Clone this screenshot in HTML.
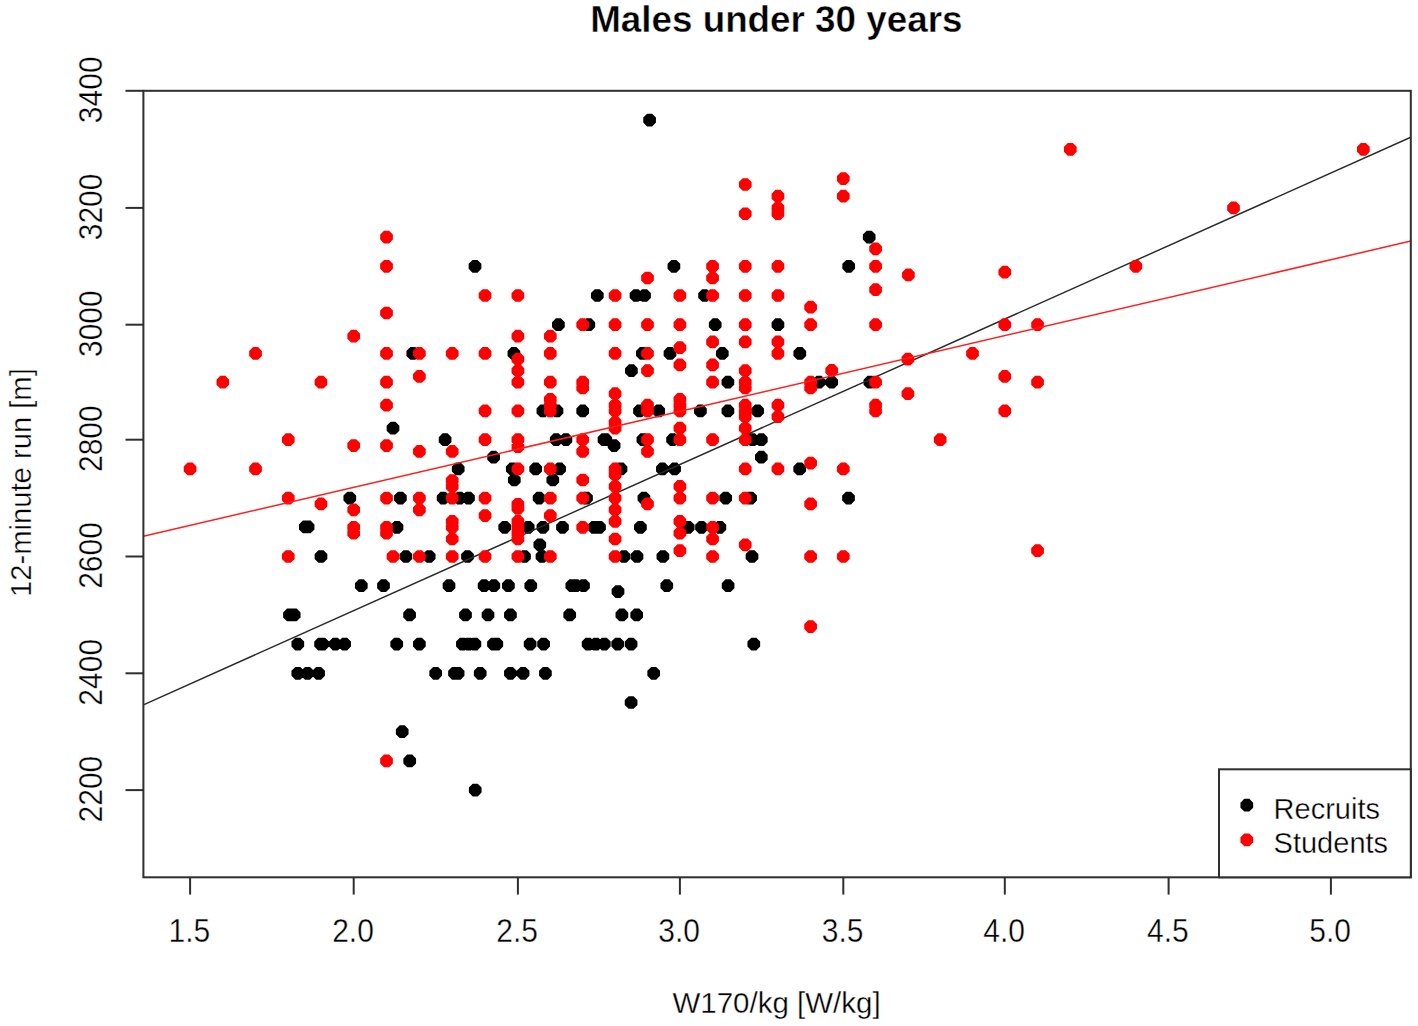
<!DOCTYPE html>
<html><head><meta charset="utf-8"><style>
html,body{margin:0;padding:0;background:#fff;}
body{width:1418px;height:1026px;overflow:hidden;}
svg{display:block;}
text{font-family:"Liberation Sans",sans-serif;fill:#000;stroke:#fff;stroke-width:0.35px;}
</style></head><body>
<svg width="1418" height="1026" viewBox="0 0 1418 1026">
<defs>
<clipPath id="cp"><rect x="143.4" y="90.8" width="1267.3999999999999" height="786.5"/></clipPath>
</defs>
<rect width="1418" height="1026" fill="#fff"/>
<g>

<text x="776.3" y="31.6" text-anchor="middle" font-weight="bold" font-size="36.8" style="stroke-width:0.4px">Males under 30 years</text>
<path fill="#000" d="M410.30 347.10 L415.30 347.10 L419.15 350.95 L419.15 355.95 L415.30 359.80 L410.30 359.80 L406.45 355.95 L406.45 350.95ZM390.50 421.85 L395.50 421.85 L399.35 425.70 L399.35 430.70 L395.50 434.55 L390.50 434.55 L386.65 430.70 L386.65 425.70ZM347.30 491.75 L352.30 491.75 L356.15 495.60 L356.15 500.60 L352.30 504.45 L347.30 504.45 L343.45 500.60 L343.45 495.60ZM397.90 491.75 L402.90 491.75 L406.75 495.60 L406.75 500.60 L402.90 504.45 L397.90 504.45 L394.05 500.60 L394.05 495.60ZM302.80 520.55 L307.80 520.55 L311.65 524.40 L311.65 529.40 L307.80 533.25 L302.80 533.25 L298.95 529.40 L298.95 524.40ZM305.60 520.55 L310.60 520.55 L314.45 524.40 L314.45 529.40 L310.60 533.25 L305.60 533.25 L301.75 529.40 L301.75 524.40ZM394.50 520.95 L399.50 520.95 L403.35 524.80 L403.35 529.80 L399.50 533.65 L394.50 533.65 L390.65 529.80 L390.65 524.80ZM318.48 550.15 L323.48 550.15 L327.33 554.00 L327.33 559.00 L323.48 562.85 L318.48 562.85 L314.63 559.00 L314.63 554.00ZM403.40 550.15 L408.40 550.15 L412.25 554.00 L412.25 559.00 L408.40 562.85 L403.40 562.85 L399.55 559.00 L399.55 554.00ZM358.80 579.35 L363.80 579.35 L367.65 583.20 L367.65 588.20 L363.80 592.05 L358.80 592.05 L354.95 588.20 L354.95 583.20ZM381.00 579.35 L386.00 579.35 L389.85 583.20 L389.85 588.20 L386.00 592.05 L381.00 592.05 L377.15 588.20 L377.15 583.20ZM287.00 608.55 L292.00 608.55 L295.85 612.40 L295.85 617.40 L292.00 621.25 L287.00 621.25 L283.15 617.40 L283.15 612.40ZM291.70 608.55 L296.70 608.55 L300.55 612.40 L300.55 617.40 L296.70 621.25 L291.70 621.25 L287.85 617.40 L287.85 612.40ZM407.10 608.55 L412.10 608.55 L415.95 612.40 L415.95 617.40 L412.10 621.25 L407.10 621.25 L403.25 617.40 L403.25 612.40ZM295.30 637.75 L300.30 637.75 L304.15 641.60 L304.15 646.60 L300.30 650.45 L295.30 650.45 L291.45 646.60 L291.45 641.60ZM318.10 637.75 L323.10 637.75 L326.95 641.60 L326.95 646.60 L323.10 650.45 L318.10 650.45 L314.25 646.60 L314.25 641.60ZM320.20 637.75 L325.20 637.75 L329.05 641.60 L329.05 646.60 L325.20 650.45 L320.20 650.45 L316.35 646.60 L316.35 641.60ZM332.80 637.75 L337.80 637.75 L341.65 641.60 L341.65 646.60 L337.80 650.45 L332.80 650.45 L328.95 646.60 L328.95 641.60ZM342.10 637.75 L347.10 637.75 L350.95 641.60 L350.95 646.60 L347.10 650.45 L342.10 650.45 L338.25 646.60 L338.25 641.60ZM394.20 637.75 L399.20 637.75 L403.05 641.60 L403.05 646.60 L399.20 650.45 L394.20 650.45 L390.35 646.60 L390.35 641.60ZM416.88 637.75 L421.88 637.75 L425.73 641.60 L425.73 646.60 L421.88 650.45 L416.88 650.45 L413.03 646.60 L413.03 641.60ZM295.30 666.95 L300.30 666.95 L304.15 670.80 L304.15 675.80 L300.30 679.65 L295.30 679.65 L291.45 675.80 L291.45 670.80ZM305.00 666.95 L310.00 666.95 L313.85 670.80 L313.85 675.80 L310.00 679.65 L305.00 679.65 L301.15 675.80 L301.15 670.80ZM316.10 666.95 L321.10 666.95 L324.95 670.80 L324.95 675.80 L321.10 679.65 L316.10 679.65 L312.25 675.80 L312.25 670.80ZM399.70 725.35 L404.70 725.35 L408.55 729.20 L408.55 734.20 L404.70 738.05 L399.70 738.05 L395.85 734.20 L395.85 729.20ZM426.70 550.15 L431.70 550.15 L435.55 554.00 L435.55 559.00 L431.70 562.85 L426.70 562.85 L422.85 559.00 L422.85 554.00ZM594.80 289.15 L599.80 289.15 L603.65 293.00 L603.65 298.00 L599.80 301.85 L594.80 301.85 L590.95 298.00 L590.95 293.00ZM555.90 318.35 L560.90 318.35 L564.75 322.20 L564.75 327.20 L560.90 331.05 L555.90 331.05 L552.05 327.20 L552.05 322.20ZM586.30 318.35 L591.30 318.35 L595.15 322.20 L595.15 327.20 L591.30 331.05 L586.30 331.05 L582.45 327.20 L582.45 322.20ZM511.40 347.10 L516.40 347.10 L520.25 350.95 L520.25 355.95 L516.40 359.80 L511.40 359.80 L507.55 355.95 L507.55 350.95ZM540.40 404.60 L545.40 404.60 L549.25 408.45 L549.25 413.45 L545.40 417.30 L540.40 417.30 L536.55 413.45 L536.55 408.45ZM554.50 404.60 L559.50 404.60 L563.35 408.45 L563.35 413.45 L559.50 417.30 L554.50 417.30 L550.65 413.45 L550.65 408.45ZM580.20 404.60 L585.20 404.60 L589.05 408.45 L589.05 413.45 L585.20 417.30 L580.20 417.30 L576.35 413.45 L576.35 408.45ZM633.50 289.15 L638.50 289.15 L642.35 293.00 L642.35 298.00 L638.50 301.85 L633.50 301.85 L629.65 298.00 L629.65 293.00ZM642.00 289.15 L647.00 289.15 L650.85 293.00 L650.85 298.00 L647.00 301.85 L642.00 301.85 L638.15 298.00 L638.15 293.00ZM702.10 289.15 L707.10 289.15 L710.95 293.00 L710.95 298.00 L707.10 301.85 L702.10 301.85 L698.25 298.00 L698.25 293.00ZM712.70 318.35 L717.70 318.35 L721.55 322.20 L721.55 327.20 L717.70 331.05 L712.70 331.05 L708.85 327.20 L708.85 322.20ZM775.44 318.35 L780.44 318.35 L784.29 322.20 L784.29 327.20 L780.44 331.05 L775.44 331.05 L771.59 327.20 L771.59 322.20ZM639.90 347.10 L644.90 347.10 L648.75 350.95 L648.75 355.95 L644.90 359.80 L639.90 359.80 L636.05 355.95 L636.05 350.95ZM667.50 347.10 L672.50 347.10 L676.35 350.95 L676.35 355.95 L672.50 359.80 L667.50 359.80 L663.65 355.95 L663.65 350.95ZM719.80 347.10 L724.80 347.10 L728.65 350.95 L728.65 355.95 L724.80 359.80 L719.80 359.80 L715.95 355.95 L715.95 350.95ZM797.30 347.10 L802.30 347.10 L806.15 350.95 L806.15 355.95 L802.30 359.80 L797.30 359.80 L793.45 355.95 L793.45 350.95ZM628.90 364.35 L633.90 364.35 L637.75 368.20 L637.75 373.20 L633.90 377.05 L628.90 377.05 L625.05 373.20 L625.05 368.20ZM725.40 375.85 L730.40 375.85 L734.25 379.70 L734.25 384.70 L730.40 388.55 L725.40 388.55 L721.55 384.70 L721.55 379.70ZM637.00 404.60 L642.00 404.60 L645.85 408.45 L645.85 413.45 L642.00 417.30 L637.00 417.30 L633.15 413.45 L633.15 408.45ZM656.20 404.60 L661.20 404.60 L665.05 408.45 L665.05 413.45 L661.20 417.30 L656.20 417.30 L652.35 413.45 L652.35 408.45ZM697.90 404.60 L702.90 404.60 L706.75 408.45 L706.75 413.45 L702.90 417.30 L697.90 417.30 L694.05 413.45 L694.05 408.45ZM725.40 404.60 L730.40 404.60 L734.25 408.45 L734.25 413.45 L730.40 417.30 L725.40 417.30 L721.55 413.45 L721.55 408.45ZM755.10 404.60 L760.10 404.60 L763.95 408.45 L763.95 413.45 L760.10 417.30 L755.10 417.30 L751.25 413.45 L751.25 408.45ZM671.40 259.95 L676.40 259.95 L680.25 263.80 L680.25 268.80 L676.40 272.65 L671.40 272.65 L667.55 268.80 L667.55 263.80ZM647.10 113.73 L652.10 113.73 L655.95 117.58 L655.95 122.58 L652.10 126.42 L647.10 126.42 L643.25 122.58 L643.25 117.58ZM472.50 259.95 L477.50 259.95 L481.35 263.80 L481.35 268.80 L477.50 272.65 L472.50 272.65 L468.65 268.80 L468.65 263.80ZM866.70 230.75 L871.70 230.75 L875.55 234.60 L875.55 239.60 L871.70 243.45 L866.70 243.45 L862.85 239.60 L862.85 234.60ZM846.20 259.95 L851.20 259.95 L855.05 263.80 L855.05 268.80 L851.20 272.65 L846.20 272.65 L842.35 268.80 L842.35 263.80ZM816.50 375.85 L821.50 375.85 L825.35 379.70 L825.35 384.70 L821.50 388.55 L816.50 388.55 L812.65 384.70 L812.65 379.70ZM829.20 375.85 L834.20 375.85 L838.05 379.70 L838.05 384.70 L834.20 388.55 L829.20 388.55 L825.35 384.70 L825.35 379.70ZM867.40 375.85 L872.40 375.85 L876.25 379.70 L876.25 384.70 L872.40 388.55 L867.40 388.55 L863.55 384.70 L863.55 379.70ZM442.60 433.35 L447.60 433.35 L451.45 437.20 L451.45 442.20 L447.60 446.05 L442.60 446.05 L438.75 442.20 L438.75 437.20ZM491.10 450.87 L496.10 450.87 L499.95 454.72 L499.95 459.72 L496.10 463.57 L491.10 463.57 L487.25 459.72 L487.25 454.72ZM455.70 462.55 L460.70 462.55 L464.55 466.40 L464.55 471.40 L460.70 475.25 L455.70 475.25 L451.85 471.40 L451.85 466.40ZM440.60 491.75 L445.60 491.75 L449.45 495.60 L449.45 500.60 L445.60 504.45 L440.60 504.45 L436.75 500.60 L436.75 495.60ZM457.20 491.75 L462.20 491.75 L466.05 495.60 L466.05 500.60 L462.20 504.45 L457.20 504.45 L453.35 500.60 L453.35 495.60ZM466.00 491.75 L471.00 491.75 L474.85 495.60 L474.85 500.60 L471.00 504.45 L466.00 504.45 L462.15 500.60 L462.15 495.60ZM553.70 433.35 L558.70 433.35 L562.55 437.20 L562.55 442.20 L558.70 446.05 L553.70 446.05 L549.85 442.20 L549.85 437.20ZM563.40 433.35 L568.40 433.35 L572.25 437.20 L572.25 442.20 L568.40 446.05 L563.40 446.05 L559.55 442.20 L559.55 437.20ZM601.50 433.35 L606.50 433.35 L610.35 437.20 L610.35 442.20 L606.50 446.05 L601.50 446.05 L597.65 442.20 L597.65 437.20ZM509.80 462.55 L514.80 462.55 L518.65 466.40 L518.65 471.40 L514.80 475.25 L509.80 475.25 L505.95 471.40 L505.95 466.40ZM533.20 462.55 L538.20 462.55 L542.05 466.40 L542.05 471.40 L538.20 475.25 L533.20 475.25 L529.35 471.40 L529.35 466.40ZM557.10 462.55 L562.10 462.55 L565.95 466.40 L565.95 471.40 L562.10 475.25 L557.10 475.25 L553.25 471.40 L553.25 466.40ZM511.80 473.65 L516.80 473.65 L520.65 477.50 L520.65 482.50 L516.80 486.35 L511.80 486.35 L507.95 482.50 L507.95 477.50ZM550.30 473.65 L555.30 473.65 L559.15 477.50 L559.15 482.50 L555.30 486.35 L550.30 486.35 L546.45 482.50 L546.45 477.50ZM536.60 491.75 L541.60 491.75 L545.45 495.60 L545.45 500.60 L541.60 504.45 L536.60 504.45 L532.75 500.60 L532.75 495.60ZM584.00 491.75 L589.00 491.75 L592.85 495.60 L592.85 500.60 L589.00 504.45 L584.00 504.45 L580.15 500.60 L580.15 495.60ZM502.20 520.95 L507.20 520.95 L511.05 524.80 L511.05 529.80 L507.20 533.65 L502.20 533.65 L498.35 529.80 L498.35 524.80ZM525.70 520.95 L530.70 520.95 L534.55 524.80 L534.55 529.80 L530.70 533.65 L525.70 533.65 L521.85 529.80 L521.85 524.80ZM540.40 520.95 L545.40 520.95 L549.25 524.80 L549.25 529.80 L545.40 533.65 L540.40 533.65 L536.55 529.80 L536.55 524.80ZM537.30 538.47 L542.30 538.47 L546.15 542.32 L546.15 547.32 L542.30 551.17 L537.30 551.17 L533.45 547.32 L533.45 542.32ZM603.30 433.35 L608.30 433.35 L612.15 437.20 L612.15 442.20 L608.30 446.05 L603.30 446.05 L599.45 442.20 L599.45 437.20ZM611.60 439.19 L616.60 439.19 L620.45 443.04 L620.45 448.04 L616.60 451.89 L611.60 451.89 L607.75 448.04 L607.75 443.04ZM640.40 433.35 L645.40 433.35 L649.25 437.20 L649.25 442.20 L645.40 446.05 L640.40 446.05 L636.55 442.20 L636.55 437.20ZM670.10 433.35 L675.10 433.35 L678.95 437.20 L678.95 442.20 L675.10 446.05 L670.10 446.05 L666.25 442.20 L666.25 437.20ZM659.90 462.55 L664.90 462.55 L668.75 466.40 L668.75 471.40 L664.90 475.25 L659.90 475.25 L656.05 471.40 L656.05 466.40ZM672.10 462.55 L677.10 462.55 L680.95 466.40 L680.95 471.40 L677.10 475.25 L672.10 475.25 L668.25 471.40 L668.25 466.40ZM618.50 462.55 L623.50 462.55 L627.35 466.40 L627.35 471.40 L623.50 475.25 L618.50 475.25 L614.65 471.40 L614.65 466.40ZM641.40 491.75 L646.40 491.75 L650.25 495.60 L650.25 500.60 L646.40 504.45 L641.40 504.45 L637.55 500.60 L637.55 495.60ZM750.00 433.35 L755.00 433.35 L758.85 437.20 L758.85 442.20 L755.00 446.05 L750.00 446.05 L746.15 442.20 L746.15 437.20ZM758.80 433.35 L763.80 433.35 L767.65 437.20 L767.65 442.20 L763.80 446.05 L758.80 446.05 L754.95 442.20 L754.95 437.20ZM758.80 450.87 L763.80 450.87 L767.65 454.72 L767.65 459.72 L763.80 463.57 L758.80 463.57 L754.95 459.72 L754.95 454.72ZM723.20 491.75 L728.20 491.75 L732.05 495.60 L732.05 500.60 L728.20 504.45 L723.20 504.45 L719.35 500.60 L719.35 495.60ZM748.10 491.75 L753.10 491.75 L756.95 495.60 L756.95 500.60 L753.10 504.45 L748.10 504.45 L744.25 500.60 L744.25 495.60ZM797.20 462.55 L802.20 462.55 L806.05 466.40 L806.05 471.40 L802.20 475.25 L797.20 475.25 L793.35 471.40 L793.35 466.40ZM846.00 491.75 L851.00 491.75 L854.85 495.60 L854.85 500.60 L851.00 504.45 L846.00 504.45 L842.15 500.60 L842.15 495.60ZM465.00 550.15 L470.00 550.15 L473.85 554.00 L473.85 559.00 L470.00 562.85 L465.00 562.85 L461.15 559.00 L461.15 554.00ZM446.50 579.35 L451.50 579.35 L455.35 583.20 L455.35 588.20 L451.50 592.05 L446.50 592.05 L442.65 588.20 L442.65 583.20ZM481.60 579.35 L486.60 579.35 L490.45 583.20 L490.45 588.20 L486.60 592.05 L481.60 592.05 L477.75 588.20 L477.75 583.20ZM491.30 579.35 L496.30 579.35 L500.15 583.20 L500.15 588.20 L496.30 592.05 L491.30 592.05 L487.45 588.20 L487.45 583.20ZM505.90 579.35 L510.90 579.35 L514.75 583.20 L514.75 588.20 L510.90 592.05 L505.90 592.05 L502.05 588.20 L502.05 583.20ZM560.00 520.95 L565.00 520.95 L568.85 524.80 L568.85 529.80 L565.00 533.65 L560.00 533.65 L556.15 529.80 L556.15 524.80ZM591.50 520.95 L596.50 520.95 L600.35 524.80 L600.35 529.80 L596.50 533.65 L591.50 533.65 L587.65 529.80 L587.65 524.80ZM597.00 520.95 L602.00 520.95 L605.85 524.80 L605.85 529.80 L602.00 533.65 L597.00 533.65 L593.15 529.80 L593.15 524.80ZM522.00 550.15 L527.00 550.15 L530.85 554.00 L530.85 559.00 L527.00 562.85 L522.00 562.85 L518.15 559.00 L518.15 554.00ZM539.50 550.15 L544.50 550.15 L548.35 554.00 L548.35 559.00 L544.50 562.85 L539.50 562.85 L535.65 559.00 L535.65 554.00ZM528.30 579.35 L533.30 579.35 L537.15 583.20 L537.15 588.20 L533.30 592.05 L528.30 592.05 L524.45 588.20 L524.45 583.20ZM569.30 579.35 L574.30 579.35 L578.15 583.20 L578.15 588.20 L574.30 592.05 L569.30 592.05 L565.45 588.20 L565.45 583.20ZM573.30 579.35 L578.30 579.35 L582.15 583.20 L582.15 588.20 L578.30 592.05 L573.30 592.05 L569.45 588.20 L569.45 583.20ZM581.00 579.35 L586.00 579.35 L589.85 583.20 L589.85 588.20 L586.00 592.05 L581.00 592.05 L577.15 588.20 L577.15 583.20ZM621.40 550.15 L626.40 550.15 L630.25 554.00 L630.25 559.00 L626.40 562.85 L621.40 562.85 L617.55 559.00 L617.55 554.00ZM634.50 550.15 L639.50 550.15 L643.35 554.00 L643.35 559.00 L639.50 562.85 L634.50 562.85 L630.65 559.00 L630.65 554.00ZM660.40 550.15 L665.40 550.15 L669.25 554.00 L669.25 559.00 L665.40 562.85 L660.40 562.85 L656.55 559.00 L656.55 554.00ZM637.90 520.95 L642.90 520.95 L646.75 524.80 L646.75 529.80 L642.90 533.65 L637.90 533.65 L634.05 529.80 L634.05 524.80ZM685.70 520.95 L690.70 520.95 L694.55 524.80 L694.55 529.80 L690.70 533.65 L685.70 533.65 L681.85 529.80 L681.85 524.80ZM699.00 520.95 L704.00 520.95 L707.85 524.80 L707.85 529.80 L704.00 533.65 L699.00 533.65 L695.15 529.80 L695.15 524.80ZM664.30 579.35 L669.30 579.35 L673.15 583.20 L673.15 588.20 L669.30 592.05 L664.30 592.05 L660.45 588.20 L660.45 583.20ZM615.50 585.19 L620.50 585.19 L624.35 589.04 L624.35 594.04 L620.50 597.89 L615.50 597.89 L611.65 594.04 L611.65 589.04ZM717.40 520.95 L722.40 520.95 L726.25 524.80 L726.25 529.80 L722.40 533.65 L717.40 533.65 L713.55 529.80 L713.55 524.80ZM749.50 550.15 L754.50 550.15 L758.35 554.00 L758.35 559.00 L754.50 562.85 L749.50 562.85 L745.65 559.00 L745.65 554.00ZM725.60 579.35 L730.60 579.35 L734.45 583.20 L734.45 588.20 L730.60 592.05 L725.60 592.05 L721.75 588.20 L721.75 583.20ZM463.00 608.55 L468.00 608.55 L471.85 612.40 L471.85 617.40 L468.00 621.25 L463.00 621.25 L459.15 617.40 L459.15 612.40ZM485.50 608.55 L490.50 608.55 L494.35 612.40 L494.35 617.40 L490.50 621.25 L485.50 621.25 L481.65 617.40 L481.65 612.40ZM507.90 608.55 L512.90 608.55 L516.75 612.40 L516.75 617.40 L512.90 621.25 L507.90 621.25 L504.05 617.40 L504.05 612.40ZM567.20 608.55 L572.20 608.55 L576.05 612.40 L576.05 617.40 L572.20 621.25 L567.20 621.25 L563.35 617.40 L563.35 612.40ZM459.90 637.75 L464.90 637.75 L468.75 641.60 L468.75 646.60 L464.90 650.45 L459.90 650.45 L456.05 646.60 L456.05 641.60ZM466.20 637.75 L471.20 637.75 L475.05 641.60 L475.05 646.60 L471.20 650.45 L466.20 650.45 L462.35 646.60 L462.35 641.60ZM472.40 637.75 L477.40 637.75 L481.25 641.60 L481.25 646.60 L477.40 650.45 L472.40 650.45 L468.55 646.60 L468.55 641.60ZM491.00 637.75 L496.00 637.75 L499.85 641.60 L499.85 646.60 L496.00 650.45 L491.00 650.45 L487.15 646.60 L487.15 641.60ZM494.30 637.75 L499.30 637.75 L503.15 641.60 L503.15 646.60 L499.30 650.45 L494.30 650.45 L490.45 646.60 L490.45 641.60ZM527.60 637.75 L532.60 637.75 L536.45 641.60 L536.45 646.60 L532.60 650.45 L527.60 650.45 L523.75 646.60 L523.75 641.60ZM541.10 637.75 L546.10 637.75 L549.95 641.60 L549.95 646.60 L546.10 650.45 L541.10 650.45 L537.25 646.60 L537.25 641.60ZM585.60 637.75 L590.60 637.75 L594.45 641.60 L594.45 646.60 L590.60 650.45 L585.60 650.45 L581.75 646.60 L581.75 641.60ZM593.40 637.75 L598.40 637.75 L602.25 641.60 L602.25 646.60 L598.40 650.45 L593.40 650.45 L589.55 646.60 L589.55 641.60ZM601.80 637.75 L606.80 637.75 L610.65 641.60 L610.65 646.60 L606.80 650.45 L601.80 650.45 L597.95 646.60 L597.95 641.60ZM433.20 666.95 L438.20 666.95 L442.05 670.80 L442.05 675.80 L438.20 679.65 L433.20 679.65 L429.35 675.80 L429.35 670.80ZM452.00 666.95 L457.00 666.95 L460.85 670.80 L460.85 675.80 L457.00 679.65 L452.00 679.65 L448.15 675.80 L448.15 670.80ZM455.60 666.95 L460.60 666.95 L464.45 670.80 L464.45 675.80 L460.60 679.65 L455.60 679.65 L451.75 675.80 L451.75 670.80ZM477.70 666.95 L482.70 666.95 L486.55 670.80 L486.55 675.80 L482.70 679.65 L477.70 679.65 L473.85 675.80 L473.85 670.80ZM507.90 666.95 L512.90 666.95 L516.75 670.80 L516.75 675.80 L512.90 679.65 L507.90 679.65 L504.05 675.80 L504.05 670.80ZM520.60 666.95 L525.60 666.95 L529.45 670.80 L529.45 675.80 L525.60 679.65 L520.60 679.65 L516.75 675.80 L516.75 670.80ZM542.90 666.95 L547.90 666.95 L551.75 670.80 L551.75 675.80 L547.90 679.65 L542.90 679.65 L539.05 675.80 L539.05 670.80ZM619.40 608.55 L624.40 608.55 L628.25 612.40 L628.25 617.40 L624.40 621.25 L619.40 621.25 L615.55 617.40 L615.55 612.40ZM634.20 608.55 L639.20 608.55 L643.05 612.40 L643.05 617.40 L639.20 621.25 L634.20 621.25 L630.35 617.40 L630.35 612.40ZM615.20 637.75 L620.20 637.75 L624.05 641.60 L624.05 646.60 L620.20 650.45 L615.20 650.45 L611.35 646.60 L611.35 641.60ZM628.60 637.75 L633.60 637.75 L637.45 641.60 L637.45 646.60 L633.60 650.45 L628.60 650.45 L624.75 646.60 L624.75 641.60ZM751.30 637.75 L756.30 637.75 L760.15 641.60 L760.15 646.60 L756.30 650.45 L751.30 650.45 L747.45 646.60 L747.45 641.60ZM651.20 666.95 L656.20 666.95 L660.05 670.80 L660.05 675.80 L656.20 679.65 L651.20 679.65 L647.35 675.80 L647.35 670.80ZM628.60 696.15 L633.60 696.15 L637.45 700.00 L637.45 705.00 L633.60 708.85 L628.60 708.85 L624.75 705.00 L624.75 700.00ZM407.20 754.55 L412.20 754.55 L416.05 758.40 L416.05 763.40 L412.20 767.25 L407.20 767.25 L403.35 763.40 L403.35 758.40ZM472.71 783.75 L477.71 783.75 L481.56 787.60 L481.56 792.60 L477.71 796.45 L472.71 796.45 L468.86 792.60 L468.86 787.60Z"/>
<g clip-path="url(#cp)"><line x1="143.4" y1="704.8" x2="1410.8" y2="137.2" stroke="#2a2a2a" stroke-width="1.45"/></g>
<path fill="#f00" d="M384.04 230.75 L389.04 230.75 L392.89 234.60 L392.89 239.60 L389.04 243.45 L384.04 243.45 L380.19 239.60 L380.19 234.60ZM384.04 259.95 L389.04 259.95 L392.89 263.80 L392.89 268.80 L389.04 272.65 L384.04 272.65 L380.19 268.80 L380.19 263.80ZM384.04 306.67 L389.04 306.67 L392.89 310.52 L392.89 315.52 L389.04 319.37 L384.04 319.37 L380.19 315.52 L380.19 310.52ZM351.20 329.85 L356.20 329.85 L360.05 333.70 L360.05 338.70 L356.20 342.55 L351.20 342.55 L347.35 338.70 L347.35 333.70ZM253.04 347.10 L258.04 347.10 L261.89 350.95 L261.89 355.95 L258.04 359.80 L253.04 359.80 L249.19 355.95 L249.19 350.95ZM384.04 347.10 L389.04 347.10 L392.89 350.95 L392.89 355.95 L389.04 359.80 L384.04 359.80 L380.19 355.95 L380.19 350.95ZM416.88 347.10 L421.88 347.10 L425.73 350.95 L425.73 355.95 L421.88 359.80 L416.88 359.80 L413.03 355.95 L413.03 350.95ZM220.32 375.85 L225.32 375.85 L229.17 379.70 L229.17 384.70 L225.32 388.55 L220.32 388.55 L216.47 384.70 L216.47 379.70ZM318.48 375.85 L323.48 375.85 L327.33 379.70 L327.33 384.70 L323.48 388.55 L318.48 388.55 L314.63 384.70 L314.63 379.70ZM384.04 375.85 L389.04 375.85 L392.89 379.70 L392.89 384.70 L389.04 388.55 L384.04 388.55 L380.19 384.70 L380.19 379.70ZM416.88 370.10 L421.88 370.10 L425.73 373.95 L425.73 378.95 L421.88 382.80 L416.88 382.80 L413.03 378.95 L413.03 373.95ZM384.04 398.85 L389.04 398.85 L392.89 402.70 L392.89 407.70 L389.04 411.55 L384.04 411.55 L380.19 407.70 L380.19 402.70ZM285.76 433.35 L290.76 433.35 L294.61 437.20 L294.61 442.20 L290.76 446.05 L285.76 446.05 L281.91 442.20 L281.91 437.20ZM351.20 439.19 L356.20 439.19 L360.05 443.04 L360.05 448.04 L356.20 451.89 L351.20 451.89 L347.35 448.04 L347.35 443.04ZM384.04 439.19 L389.04 439.19 L392.89 443.04 L392.89 448.04 L389.04 451.89 L384.04 451.89 L380.19 448.04 L380.19 443.04ZM416.88 445.03 L421.88 445.03 L425.73 448.88 L425.73 453.88 L421.88 457.73 L416.88 457.73 L413.03 453.88 L413.03 448.88ZM187.60 462.55 L192.60 462.55 L196.45 466.40 L196.45 471.40 L192.60 475.25 L187.60 475.25 L183.75 471.40 L183.75 466.40ZM253.04 462.55 L258.04 462.55 L261.89 466.40 L261.89 471.40 L258.04 475.25 L253.04 475.25 L249.19 471.40 L249.19 466.40ZM285.76 491.75 L290.76 491.75 L294.61 495.60 L294.61 500.60 L290.76 504.45 L285.76 504.45 L281.91 500.60 L281.91 495.60ZM318.48 497.59 L323.48 497.59 L327.33 501.44 L327.33 506.44 L323.48 510.29 L318.48 510.29 L314.63 506.44 L314.63 501.44ZM351.20 503.43 L356.20 503.43 L360.05 507.28 L360.05 512.28 L356.20 516.13 L351.20 516.13 L347.35 512.28 L347.35 507.28ZM384.04 491.75 L389.04 491.75 L392.89 495.60 L392.89 500.60 L389.04 504.45 L384.04 504.45 L380.19 500.60 L380.19 495.60ZM416.88 491.75 L421.88 491.75 L425.73 495.60 L425.73 500.60 L421.88 504.45 L416.88 504.45 L413.03 500.60 L413.03 495.60ZM416.88 503.43 L421.88 503.43 L425.73 507.28 L425.73 512.28 L421.88 516.13 L416.88 516.13 L413.03 512.28 L413.03 507.28ZM351.20 520.95 L356.20 520.95 L360.05 524.80 L360.05 529.80 L356.20 533.65 L351.20 533.65 L347.35 529.80 L347.35 524.80ZM351.20 526.79 L356.20 526.79 L360.05 530.64 L360.05 535.64 L356.20 539.49 L351.20 539.49 L347.35 535.64 L347.35 530.64ZM384.04 520.95 L389.04 520.95 L392.89 524.80 L392.89 529.80 L389.04 533.65 L384.04 533.65 L380.19 529.80 L380.19 524.80ZM384.04 526.79 L389.04 526.79 L392.89 530.64 L392.89 535.64 L389.04 539.49 L384.04 539.49 L380.19 535.64 L380.19 530.64ZM285.76 550.15 L290.76 550.15 L294.61 554.00 L294.61 559.00 L290.76 562.85 L285.76 562.85 L281.91 559.00 L281.91 554.00ZM390.50 550.15 L395.50 550.15 L399.35 554.00 L399.35 559.00 L395.50 562.85 L390.50 562.85 L386.65 559.00 L386.65 554.00ZM416.88 550.15 L421.88 550.15 L425.73 554.00 L425.73 559.00 L421.88 562.85 L416.88 562.85 L413.03 559.00 L413.03 554.00ZM482.56 289.15 L487.56 289.15 L491.41 293.00 L491.41 298.00 L487.56 301.85 L482.56 301.85 L478.71 298.00 L478.71 293.00ZM515.40 289.15 L520.40 289.15 L524.25 293.00 L524.25 298.00 L520.40 301.85 L515.40 301.85 L511.55 298.00 L511.55 293.00ZM580.20 318.35 L585.20 318.35 L589.05 322.20 L589.05 327.20 L585.20 331.05 L580.20 331.05 L576.35 327.20 L576.35 322.20ZM515.40 329.85 L520.40 329.85 L524.25 333.70 L524.25 338.70 L520.40 342.55 L515.40 342.55 L511.55 338.70 L511.55 333.70ZM547.80 329.85 L552.80 329.85 L556.65 333.70 L556.65 338.70 L552.80 342.55 L547.80 342.55 L543.95 338.70 L543.95 333.70ZM449.72 347.10 L454.72 347.10 L458.57 350.95 L458.57 355.95 L454.72 359.80 L449.72 359.80 L445.87 355.95 L445.87 350.95ZM482.56 347.10 L487.56 347.10 L491.41 350.95 L491.41 355.95 L487.56 359.80 L482.56 359.80 L478.71 355.95 L478.71 350.95ZM547.80 347.10 L552.80 347.10 L556.65 350.95 L556.65 355.95 L552.80 359.80 L547.80 359.80 L543.95 355.95 L543.95 350.95ZM515.40 352.85 L520.40 352.85 L524.25 356.70 L524.25 361.70 L520.40 365.55 L515.40 365.55 L511.55 361.70 L511.55 356.70ZM515.40 364.35 L520.40 364.35 L524.25 368.20 L524.25 373.20 L520.40 377.05 L515.40 377.05 L511.55 373.20 L511.55 368.20ZM515.40 375.85 L520.40 375.85 L524.25 379.70 L524.25 384.70 L520.40 388.55 L515.40 388.55 L511.55 384.70 L511.55 379.70ZM547.80 375.85 L552.80 375.85 L556.65 379.70 L556.65 384.70 L552.80 388.55 L547.80 388.55 L543.95 384.70 L543.95 379.70ZM580.20 375.85 L585.20 375.85 L589.05 379.70 L589.05 384.70 L585.20 388.55 L580.20 388.55 L576.35 384.70 L576.35 379.70ZM580.20 381.60 L585.20 381.60 L589.05 385.45 L589.05 390.45 L585.20 394.30 L580.20 394.30 L576.35 390.45 L576.35 385.45ZM547.80 393.10 L552.80 393.10 L556.65 396.95 L556.65 401.95 L552.80 405.80 L547.80 405.80 L543.95 401.95 L543.95 396.95ZM547.80 398.85 L552.80 398.85 L556.65 402.70 L556.65 407.70 L552.80 411.55 L547.80 411.55 L543.95 407.70 L543.95 402.70ZM547.80 404.60 L552.80 404.60 L556.65 408.45 L556.65 413.45 L552.80 417.30 L547.80 417.30 L543.95 413.45 L543.95 408.45ZM482.56 404.60 L487.56 404.60 L491.41 408.45 L491.41 413.45 L487.56 417.30 L482.56 417.30 L478.71 413.45 L478.71 408.45ZM515.40 404.60 L520.40 404.60 L524.25 408.45 L524.25 413.45 L520.40 417.30 L515.40 417.30 L511.55 413.45 L511.55 408.45ZM612.60 289.15 L617.60 289.15 L621.45 293.00 L621.45 298.00 L617.60 301.85 L612.60 301.85 L608.75 298.00 L608.75 293.00ZM677.40 289.15 L682.40 289.15 L686.25 293.00 L686.25 298.00 L682.40 301.85 L677.40 301.85 L673.55 298.00 L673.55 293.00ZM710.08 289.15 L715.08 289.15 L718.93 293.00 L718.93 298.00 L715.08 301.85 L710.08 301.85 L706.23 298.00 L706.23 293.00ZM742.76 289.15 L747.76 289.15 L751.61 293.00 L751.61 298.00 L747.76 301.85 L742.76 301.85 L738.91 298.00 L738.91 293.00ZM775.44 289.15 L780.44 289.15 L784.29 293.00 L784.29 298.00 L780.44 301.85 L775.44 301.85 L771.59 298.00 L771.59 293.00ZM612.60 318.35 L617.60 318.35 L621.45 322.20 L621.45 327.20 L617.60 331.05 L612.60 331.05 L608.75 327.20 L608.75 322.20ZM645.00 318.35 L650.00 318.35 L653.85 322.20 L653.85 327.20 L650.00 331.05 L645.00 331.05 L641.15 327.20 L641.15 322.20ZM677.40 318.35 L682.40 318.35 L686.25 322.20 L686.25 327.20 L682.40 331.05 L677.40 331.05 L673.55 327.20 L673.55 322.20ZM742.76 318.35 L747.76 318.35 L751.61 322.20 L751.61 327.20 L747.76 331.05 L742.76 331.05 L738.91 327.20 L738.91 322.20ZM710.08 335.60 L715.08 335.60 L718.93 339.45 L718.93 344.45 L715.08 348.30 L710.08 348.30 L706.23 344.45 L706.23 339.45ZM742.76 335.60 L747.76 335.60 L751.61 339.45 L751.61 344.45 L747.76 348.30 L742.76 348.30 L738.91 344.45 L738.91 339.45ZM775.44 335.60 L780.44 335.60 L784.29 339.45 L784.29 344.45 L780.44 348.30 L775.44 348.30 L771.59 344.45 L771.59 339.45ZM677.40 341.35 L682.40 341.35 L686.25 345.20 L686.25 350.20 L682.40 354.05 L677.40 354.05 L673.55 350.20 L673.55 345.20ZM612.60 347.10 L617.60 347.10 L621.45 350.95 L621.45 355.95 L617.60 359.80 L612.60 359.80 L608.75 355.95 L608.75 350.95ZM645.00 347.10 L650.00 347.10 L653.85 350.95 L653.85 355.95 L650.00 359.80 L645.00 359.80 L641.15 355.95 L641.15 350.95ZM775.44 347.10 L780.44 347.10 L784.29 350.95 L784.29 355.95 L780.44 359.80 L775.44 359.80 L771.59 355.95 L771.59 350.95ZM677.40 358.60 L682.40 358.60 L686.25 362.45 L686.25 367.45 L682.40 371.30 L677.40 371.30 L673.55 367.45 L673.55 362.45ZM710.08 358.60 L715.08 358.60 L718.93 362.45 L718.93 367.45 L715.08 371.30 L710.08 371.30 L706.23 367.45 L706.23 362.45ZM645.00 364.35 L650.00 364.35 L653.85 368.20 L653.85 373.20 L650.00 377.05 L645.00 377.05 L641.15 373.20 L641.15 368.20ZM742.76 364.35 L747.76 364.35 L751.61 368.20 L751.61 373.20 L747.76 377.05 L742.76 377.05 L738.91 373.20 L738.91 368.20ZM710.08 375.85 L715.08 375.85 L718.93 379.70 L718.93 384.70 L715.08 388.55 L710.08 388.55 L706.23 384.70 L706.23 379.70ZM742.76 375.85 L747.76 375.85 L751.61 379.70 L751.61 384.70 L747.76 388.55 L742.76 388.55 L738.91 384.70 L738.91 379.70ZM742.76 381.60 L747.76 381.60 L751.61 385.45 L751.61 390.45 L747.76 394.30 L742.76 394.30 L738.91 390.45 L738.91 385.45ZM612.60 387.35 L617.60 387.35 L621.45 391.20 L621.45 396.20 L617.60 400.05 L612.60 400.05 L608.75 396.20 L608.75 391.20ZM677.40 393.10 L682.40 393.10 L686.25 396.95 L686.25 401.95 L682.40 405.80 L677.40 405.80 L673.55 401.95 L673.55 396.95ZM612.60 398.85 L617.60 398.85 L621.45 402.70 L621.45 407.70 L617.60 411.55 L612.60 411.55 L608.75 407.70 L608.75 402.70ZM677.40 398.85 L682.40 398.85 L686.25 402.70 L686.25 407.70 L682.40 411.55 L677.40 411.55 L673.55 407.70 L673.55 402.70ZM775.44 398.85 L780.44 398.85 L784.29 402.70 L784.29 407.70 L780.44 411.55 L775.44 411.55 L771.59 407.70 L771.59 402.70ZM775.44 410.35 L780.44 410.35 L784.29 414.20 L784.29 419.20 L780.44 423.05 L775.44 423.05 L771.59 419.20 L771.59 414.20ZM742.76 398.85 L747.76 398.85 L751.61 402.70 L751.61 407.70 L747.76 411.55 L742.76 411.55 L738.91 407.70 L738.91 402.70ZM612.60 404.60 L617.60 404.60 L621.45 408.45 L621.45 413.45 L617.60 417.30 L612.60 417.30 L608.75 413.45 L608.75 408.45ZM645.00 404.60 L650.00 404.60 L653.85 408.45 L653.85 413.45 L650.00 417.30 L645.00 417.30 L641.15 413.45 L641.15 408.45ZM645.00 398.85 L650.00 398.85 L653.85 402.70 L653.85 407.70 L650.00 411.55 L645.00 411.55 L641.15 407.70 L641.15 402.70ZM677.40 404.60 L682.40 404.60 L686.25 408.45 L686.25 413.45 L682.40 417.30 L677.40 417.30 L673.55 413.45 L673.55 408.45ZM742.76 404.60 L747.76 404.60 L751.61 408.45 L751.61 413.45 L747.76 417.30 L742.76 417.30 L738.91 413.45 L738.91 408.45ZM742.76 178.13 L747.76 178.13 L751.61 181.98 L751.61 186.98 L747.76 190.83 L742.76 190.83 L738.91 186.98 L738.91 181.98ZM742.76 207.39 L747.76 207.39 L751.61 211.24 L751.61 216.24 L747.76 220.09 L742.76 220.09 L738.91 216.24 L738.91 211.24ZM775.44 189.84 L780.44 189.84 L784.29 193.69 L784.29 198.69 L780.44 202.54 L775.44 202.54 L771.59 198.69 L771.59 193.69ZM775.44 201.55 L780.44 201.55 L784.29 205.40 L784.29 210.40 L780.44 214.25 L775.44 214.25 L771.59 210.40 L771.59 205.40ZM775.44 207.39 L780.44 207.39 L784.29 211.24 L784.29 216.24 L780.44 220.09 L775.44 220.09 L771.59 216.24 L771.59 211.24ZM710.08 259.95 L715.08 259.95 L718.93 263.80 L718.93 268.80 L715.08 272.65 L710.08 272.65 L706.23 268.80 L706.23 263.80ZM742.76 259.95 L747.76 259.95 L751.61 263.80 L751.61 268.80 L747.76 272.65 L742.76 272.65 L738.91 268.80 L738.91 263.80ZM775.44 259.95 L780.44 259.95 L784.29 263.80 L784.29 268.80 L780.44 272.65 L775.44 272.65 L771.59 268.80 L771.59 263.80ZM645.00 271.63 L650.00 271.63 L653.85 275.48 L653.85 280.48 L650.00 284.33 L645.00 284.33 L641.15 280.48 L641.15 275.48ZM710.08 271.63 L715.08 271.63 L718.93 275.48 L718.93 280.48 L715.08 284.33 L710.08 284.33 L706.23 280.48 L706.23 275.48ZM840.80 172.28 L845.80 172.28 L849.65 176.12 L849.65 181.12 L845.80 184.97 L840.80 184.97 L836.95 181.12 L836.95 176.12ZM840.80 189.84 L845.80 189.84 L849.65 193.69 L849.65 198.69 L845.80 202.54 L840.80 202.54 L836.95 198.69 L836.95 193.69ZM873.10 242.43 L878.10 242.43 L881.95 246.28 L881.95 251.28 L878.10 255.13 L873.10 255.13 L869.25 251.28 L869.25 246.28ZM873.10 259.95 L878.10 259.95 L881.95 263.80 L881.95 268.80 L878.10 272.65 L873.10 272.65 L869.25 268.80 L869.25 263.80ZM905.90 268.55 L910.90 268.55 L914.75 272.40 L914.75 277.40 L910.90 281.25 L905.90 281.25 L902.05 277.40 L902.05 272.40ZM873.10 283.31 L878.10 283.31 L881.95 287.16 L881.95 292.16 L878.10 296.01 L873.10 296.01 L869.25 292.16 L869.25 287.16ZM808.12 300.83 L813.12 300.83 L816.97 304.68 L816.97 309.68 L813.12 313.53 L808.12 313.53 L804.27 309.68 L804.27 304.68ZM808.12 318.35 L813.12 318.35 L816.97 322.20 L816.97 327.20 L813.12 331.05 L808.12 331.05 L804.27 327.20 L804.27 322.20ZM873.10 318.35 L878.10 318.35 L881.95 322.20 L881.95 327.20 L878.10 331.05 L873.10 331.05 L869.25 327.20 L869.25 322.20ZM829.20 364.05 L834.20 364.05 L838.05 367.90 L838.05 372.90 L834.20 376.75 L829.20 376.75 L825.35 372.90 L825.35 367.90ZM808.12 375.85 L813.12 375.85 L816.97 379.70 L816.97 384.70 L813.12 388.55 L808.12 388.55 L804.27 384.70 L804.27 379.70ZM808.12 381.60 L813.12 381.60 L816.97 385.45 L816.97 390.45 L813.12 394.30 L808.12 394.30 L804.27 390.45 L804.27 385.45ZM873.10 375.85 L878.10 375.85 L881.95 379.70 L881.95 384.70 L878.10 388.55 L873.10 388.55 L869.25 384.70 L869.25 379.70ZM905.40 352.85 L910.40 352.85 L914.25 356.70 L914.25 361.70 L910.40 365.55 L905.40 365.55 L901.55 361.70 L901.55 356.70ZM970.00 347.10 L975.00 347.10 L978.85 350.95 L978.85 355.95 L975.00 359.80 L970.00 359.80 L966.15 355.95 L966.15 350.95ZM905.40 387.35 L910.40 387.35 L914.25 391.20 L914.25 396.20 L910.40 400.05 L905.40 400.05 L901.55 396.20 L901.55 391.20ZM873.10 398.85 L878.10 398.85 L881.95 402.70 L881.95 407.70 L878.10 411.55 L873.10 411.55 L869.25 407.70 L869.25 402.70ZM873.10 404.60 L878.10 404.60 L881.95 408.45 L881.95 413.45 L878.10 417.30 L873.10 417.30 L869.25 413.45 L869.25 408.45ZM1067.82 143.00 L1072.82 143.00 L1076.67 146.85 L1076.67 151.85 L1072.82 155.70 L1067.82 155.70 L1063.97 151.85 L1063.97 146.85ZM1002.30 265.79 L1007.30 265.79 L1011.15 269.64 L1011.15 274.64 L1007.30 278.49 L1002.30 278.49 L998.45 274.64 L998.45 269.64ZM1133.34 259.95 L1138.34 259.95 L1142.19 263.80 L1142.19 268.80 L1138.34 272.65 L1133.34 272.65 L1129.49 268.80 L1129.49 263.80ZM1002.30 318.35 L1007.30 318.35 L1011.15 322.20 L1011.15 327.20 L1007.30 331.05 L1002.30 331.05 L998.45 327.20 L998.45 322.20ZM1035.06 318.35 L1040.06 318.35 L1043.91 322.20 L1043.91 327.20 L1040.06 331.05 L1035.06 331.05 L1031.21 327.20 L1031.21 322.20ZM1002.30 370.10 L1007.30 370.10 L1011.15 373.95 L1011.15 378.95 L1007.30 382.80 L1002.30 382.80 L998.45 378.95 L998.45 373.95ZM1035.06 375.85 L1040.06 375.85 L1043.91 379.70 L1043.91 384.70 L1040.06 388.55 L1035.06 388.55 L1031.21 384.70 L1031.21 379.70ZM1002.30 404.60 L1007.30 404.60 L1011.15 408.45 L1011.15 413.45 L1007.30 417.30 L1002.30 417.30 L998.45 413.45 L998.45 408.45ZM937.70 433.35 L942.70 433.35 L946.55 437.20 L946.55 442.20 L942.70 446.05 L937.70 446.05 L933.85 442.20 L933.85 437.20ZM1035.06 544.31 L1040.06 544.31 L1043.91 548.16 L1043.91 553.16 L1040.06 557.01 L1035.06 557.01 L1031.21 553.16 L1031.21 548.16ZM1231.02 201.55 L1236.02 201.55 L1239.87 205.40 L1239.87 210.40 L1236.02 214.25 L1231.02 214.25 L1227.17 210.40 L1227.17 205.40ZM1360.86 143.00 L1365.86 143.00 L1369.71 146.85 L1369.71 151.85 L1365.86 155.70 L1360.86 155.70 L1357.01 151.85 L1357.01 146.85ZM482.56 433.35 L487.56 433.35 L491.41 437.20 L491.41 442.20 L487.56 446.05 L482.56 446.05 L478.71 442.20 L478.71 437.20ZM449.72 445.03 L454.72 445.03 L458.57 448.88 L458.57 453.88 L454.72 457.73 L449.72 457.73 L445.87 453.88 L445.87 448.88ZM449.72 474.23 L454.72 474.23 L458.57 478.08 L458.57 483.08 L454.72 486.93 L449.72 486.93 L445.87 483.08 L445.87 478.08ZM449.72 480.07 L454.72 480.07 L458.57 483.92 L458.57 488.92 L454.72 492.77 L449.72 492.77 L445.87 488.92 L445.87 483.92ZM416.88 491.75 L421.88 491.75 L425.73 495.60 L425.73 500.60 L421.88 504.45 L416.88 504.45 L413.03 500.60 L413.03 495.60ZM449.72 491.75 L454.72 491.75 L458.57 495.60 L458.57 500.60 L454.72 504.45 L449.72 504.45 L445.87 500.60 L445.87 495.60ZM482.56 491.75 L487.56 491.75 L491.41 495.60 L491.41 500.60 L487.56 504.45 L482.56 504.45 L478.71 500.60 L478.71 495.60ZM515.40 433.35 L520.40 433.35 L524.25 437.20 L524.25 442.20 L520.40 446.05 L515.40 446.05 L511.55 442.20 L511.55 437.20ZM580.20 433.35 L585.20 433.35 L589.05 437.20 L589.05 442.20 L585.20 446.05 L580.20 446.05 L576.35 442.20 L576.35 437.20ZM515.40 440.36 L520.40 440.36 L524.25 444.21 L524.25 449.21 L520.40 453.06 L515.40 453.06 L511.55 449.21 L511.55 444.21ZM580.20 445.03 L585.20 445.03 L589.05 448.88 L589.05 453.88 L585.20 457.73 L580.20 457.73 L576.35 453.88 L576.35 448.88ZM515.40 462.55 L520.40 462.55 L524.25 466.40 L524.25 471.40 L520.40 475.25 L515.40 475.25 L511.55 471.40 L511.55 466.40ZM547.80 462.55 L552.80 462.55 L556.65 466.40 L556.65 471.40 L552.80 475.25 L547.80 475.25 L543.95 471.40 L543.95 466.40ZM580.20 473.65 L585.20 473.65 L589.05 477.50 L589.05 482.50 L585.20 486.35 L580.20 486.35 L576.35 482.50 L576.35 477.50ZM547.80 491.75 L552.80 491.75 L556.65 495.60 L556.65 500.60 L552.80 504.45 L547.80 504.45 L543.95 500.60 L543.95 495.60ZM580.20 491.75 L585.20 491.75 L589.05 495.60 L589.05 500.60 L585.20 504.45 L580.20 504.45 L576.35 500.60 L576.35 495.60ZM482.56 509.27 L487.56 509.27 L491.41 513.12 L491.41 518.12 L487.56 521.97 L482.56 521.97 L478.71 518.12 L478.71 513.12ZM449.72 515.11 L454.72 515.11 L458.57 518.96 L458.57 523.96 L454.72 527.81 L449.72 527.81 L445.87 523.96 L445.87 518.96ZM449.72 520.95 L454.72 520.95 L458.57 524.80 L458.57 529.80 L454.72 533.65 L449.72 533.65 L445.87 529.80 L445.87 524.80ZM449.72 532.63 L454.72 532.63 L458.57 536.48 L458.57 541.48 L454.72 545.33 L449.72 545.33 L445.87 541.48 L445.87 536.48ZM515.40 497.95 L520.40 497.95 L524.25 501.80 L524.25 506.80 L520.40 510.65 L515.40 510.65 L511.55 506.80 L511.55 501.80ZM515.40 501.95 L520.40 501.95 L524.25 505.80 L524.25 510.80 L520.40 514.65 L515.40 514.65 L511.55 510.80 L511.55 505.80ZM515.40 515.11 L520.40 515.11 L524.25 518.96 L524.25 523.96 L520.40 527.81 L515.40 527.81 L511.55 523.96 L511.55 518.96ZM515.40 520.95 L520.40 520.95 L524.25 524.80 L524.25 529.80 L520.40 533.65 L515.40 533.65 L511.55 529.80 L511.55 524.80ZM515.40 526.79 L520.40 526.79 L524.25 530.64 L524.25 535.64 L520.40 539.49 L515.40 539.49 L511.55 535.64 L511.55 530.64ZM515.40 532.63 L520.40 532.63 L524.25 536.48 L524.25 541.48 L520.40 545.33 L515.40 545.33 L511.55 541.48 L511.55 536.48ZM547.80 509.27 L552.80 509.27 L556.65 513.12 L556.65 518.12 L552.80 521.97 L547.80 521.97 L543.95 518.12 L543.95 513.12ZM612.60 416.10 L617.60 416.10 L621.45 419.95 L621.45 424.95 L617.60 428.80 L612.60 428.80 L608.75 424.95 L608.75 419.95ZM612.60 421.85 L617.60 421.85 L621.45 425.70 L621.45 430.70 L617.60 434.55 L612.60 434.55 L608.75 430.70 L608.75 425.70ZM645.00 433.35 L650.00 433.35 L653.85 437.20 L653.85 442.20 L650.00 446.05 L645.00 446.05 L641.15 442.20 L641.15 437.20ZM645.00 445.03 L650.00 445.03 L653.85 448.88 L653.85 453.88 L650.00 457.73 L645.00 457.73 L641.15 453.88 L641.15 448.88ZM677.40 421.85 L682.40 421.85 L686.25 425.70 L686.25 430.70 L682.40 434.55 L677.40 434.55 L673.55 430.70 L673.55 425.70ZM677.40 433.35 L682.40 433.35 L686.25 437.20 L686.25 442.20 L682.40 446.05 L677.40 446.05 L673.55 442.20 L673.55 437.20ZM612.60 462.55 L617.60 462.55 L621.45 466.40 L621.45 471.40 L617.60 475.25 L612.60 475.25 L608.75 471.40 L608.75 466.40ZM612.60 468.39 L617.60 468.39 L621.45 472.24 L621.45 477.24 L617.60 481.09 L612.60 481.09 L608.75 477.24 L608.75 472.24ZM612.60 480.07 L617.60 480.07 L621.45 483.92 L621.45 488.92 L617.60 492.77 L612.60 492.77 L608.75 488.92 L608.75 483.92ZM612.60 491.75 L617.60 491.75 L621.45 495.60 L621.45 500.60 L617.60 504.45 L612.60 504.45 L608.75 500.60 L608.75 495.60ZM677.40 480.07 L682.40 480.07 L686.25 483.92 L686.25 488.92 L682.40 492.77 L677.40 492.77 L673.55 488.92 L673.55 483.92ZM677.40 491.75 L682.40 491.75 L686.25 495.60 L686.25 500.60 L682.40 504.45 L677.40 504.45 L673.55 500.60 L673.55 495.60ZM645.00 497.59 L650.00 497.59 L653.85 501.44 L653.85 506.44 L650.00 510.29 L645.00 510.29 L641.15 506.44 L641.15 501.44ZM742.76 410.35 L747.76 410.35 L751.61 414.20 L751.61 419.20 L747.76 423.05 L742.76 423.05 L738.91 419.20 L738.91 414.20ZM742.76 421.85 L747.76 421.85 L751.61 425.70 L751.61 430.70 L747.76 434.55 L742.76 434.55 L738.91 430.70 L738.91 425.70ZM742.76 433.35 L747.76 433.35 L751.61 437.20 L751.61 442.20 L747.76 446.05 L742.76 446.05 L738.91 442.20 L738.91 437.20ZM710.08 433.35 L715.08 433.35 L718.93 437.20 L718.93 442.20 L715.08 446.05 L710.08 446.05 L706.23 442.20 L706.23 437.20ZM742.76 462.55 L747.76 462.55 L751.61 466.40 L751.61 471.40 L747.76 475.25 L742.76 475.25 L738.91 471.40 L738.91 466.40ZM775.44 462.55 L780.44 462.55 L784.29 466.40 L784.29 471.40 L780.44 475.25 L775.44 475.25 L771.59 471.40 L771.59 466.40ZM710.08 491.75 L715.08 491.75 L718.93 495.60 L718.93 500.60 L715.08 504.45 L710.08 504.45 L706.23 500.60 L706.23 495.60ZM742.76 491.75 L747.76 491.75 L751.61 495.60 L751.61 500.60 L747.76 504.45 L742.76 504.45 L738.91 500.60 L738.91 495.60ZM808.12 456.71 L813.12 456.71 L816.97 460.56 L816.97 465.56 L813.12 469.41 L808.12 469.41 L804.27 465.56 L804.27 460.56ZM840.80 462.55 L845.80 462.55 L849.65 466.40 L849.65 471.40 L845.80 475.25 L840.80 475.25 L836.95 471.40 L836.95 466.40ZM808.12 497.59 L813.12 497.59 L816.97 501.44 L816.97 506.44 L813.12 510.29 L808.12 510.29 L804.27 506.44 L804.27 501.44ZM449.72 550.15 L454.72 550.15 L458.57 554.00 L458.57 559.00 L454.72 562.85 L449.72 562.85 L445.87 559.00 L445.87 554.00ZM482.56 550.15 L487.56 550.15 L491.41 554.00 L491.41 559.00 L487.56 562.85 L482.56 562.85 L478.71 559.00 L478.71 554.00ZM580.20 520.95 L585.20 520.95 L589.05 524.80 L589.05 529.80 L585.20 533.65 L580.20 533.65 L576.35 529.80 L576.35 524.80ZM515.40 550.15 L520.40 550.15 L524.25 554.00 L524.25 559.00 L520.40 562.85 L515.40 562.85 L511.55 559.00 L511.55 554.00ZM547.80 550.15 L552.80 550.15 L556.65 554.00 L556.65 559.00 L552.80 562.85 L547.80 562.85 L543.95 559.00 L543.95 554.00ZM612.60 503.43 L617.60 503.43 L621.45 507.28 L621.45 512.28 L617.60 516.13 L612.60 516.13 L608.75 512.28 L608.75 507.28ZM612.60 515.11 L617.60 515.11 L621.45 518.96 L621.45 523.96 L617.60 527.81 L612.60 527.81 L608.75 523.96 L608.75 518.96ZM612.60 532.63 L617.60 532.63 L621.45 536.48 L621.45 541.48 L617.60 545.33 L612.60 545.33 L608.75 541.48 L608.75 536.48ZM612.60 550.15 L617.60 550.15 L621.45 554.00 L621.45 559.00 L617.60 562.85 L612.60 562.85 L608.75 559.00 L608.75 554.00ZM677.40 515.11 L682.40 515.11 L686.25 518.96 L686.25 523.96 L682.40 527.81 L677.40 527.81 L673.55 523.96 L673.55 518.96ZM677.40 526.79 L682.40 526.79 L686.25 530.64 L686.25 535.64 L682.40 539.49 L677.40 539.49 L673.55 535.64 L673.55 530.64ZM677.40 544.31 L682.40 544.31 L686.25 548.16 L686.25 553.16 L682.40 557.01 L677.40 557.01 L673.55 553.16 L673.55 548.16ZM710.08 520.95 L715.08 520.95 L718.93 524.80 L718.93 529.80 L715.08 533.65 L710.08 533.65 L706.23 529.80 L706.23 524.80ZM710.08 532.63 L715.08 532.63 L718.93 536.48 L718.93 541.48 L715.08 545.33 L710.08 545.33 L706.23 541.48 L706.23 536.48ZM710.08 550.15 L715.08 550.15 L718.93 554.00 L718.93 559.00 L715.08 562.85 L710.08 562.85 L706.23 559.00 L706.23 554.00ZM742.76 538.47 L747.76 538.47 L751.61 542.32 L751.61 547.32 L747.76 551.17 L742.76 551.17 L738.91 547.32 L738.91 542.32ZM808.12 550.15 L813.12 550.15 L816.97 554.00 L816.97 559.00 L813.12 562.85 L808.12 562.85 L804.27 559.00 L804.27 554.00ZM840.80 550.15 L845.80 550.15 L849.65 554.00 L849.65 559.00 L845.80 562.85 L840.80 562.85 L836.95 559.00 L836.95 554.00ZM808.12 620.23 L813.12 620.23 L816.97 624.08 L816.97 629.08 L813.12 632.93 L808.12 632.93 L804.27 629.08 L804.27 624.08ZM384.04 754.55 L389.04 754.55 L392.89 758.40 L392.89 763.40 L389.04 767.25 L384.04 767.25 L380.19 763.40 L380.19 758.40Z"/>
<g clip-path="url(#cp)"><line x1="143.4" y1="536.3" x2="1410.8" y2="241.1" stroke="#ff1f1f" stroke-width="1.5"/></g>
<rect x="143.4" y="90.8" width="1267.4" height="786.5" fill="none" stroke="#2e2e2e" stroke-width="2"/>
<line x1="190.1" y1="877.3" x2="190.1" y2="894.6" stroke="#2e2e2e" stroke-width="2"/><text transform="translate(189.4,941.5) scale(1,1.09)" text-anchor="middle" font-size="30">1.5</text><line x1="353.7" y1="877.3" x2="353.7" y2="894.6" stroke="#2e2e2e" stroke-width="2"/><text transform="translate(353.0,941.5) scale(1,1.09)" text-anchor="middle" font-size="30">2.0</text><line x1="517.9" y1="877.3" x2="517.9" y2="894.6" stroke="#2e2e2e" stroke-width="2"/><text transform="translate(517.2,941.5) scale(1,1.09)" text-anchor="middle" font-size="30">2.5</text><line x1="679.9" y1="877.3" x2="679.9" y2="894.6" stroke="#2e2e2e" stroke-width="2"/><text transform="translate(679.2,941.5) scale(1,1.09)" text-anchor="middle" font-size="30">3.0</text><line x1="843.3" y1="877.3" x2="843.3" y2="894.6" stroke="#2e2e2e" stroke-width="2"/><text transform="translate(842.6,941.5) scale(1,1.09)" text-anchor="middle" font-size="30">3.5</text><line x1="1004.8" y1="877.3" x2="1004.8" y2="894.6" stroke="#2e2e2e" stroke-width="2"/><text transform="translate(1004.1,941.5) scale(1,1.09)" text-anchor="middle" font-size="30">4.0</text><line x1="1168.6" y1="877.3" x2="1168.6" y2="894.6" stroke="#2e2e2e" stroke-width="2"/><text transform="translate(1167.9,941.5) scale(1,1.09)" text-anchor="middle" font-size="30">4.5</text><line x1="1330.9" y1="877.3" x2="1330.9" y2="894.6" stroke="#2e2e2e" stroke-width="2"/><text transform="translate(1330.2,941.5) scale(1,1.09)" text-anchor="middle" font-size="30">5.0</text><line x1="125.5" y1="790.1" x2="143.4" y2="790.1" stroke="#2e2e2e" stroke-width="2"/><text transform="translate(101.8,789.1) rotate(-90) scale(1,1.09)" text-anchor="middle" font-size="30">2200</text><line x1="125.5" y1="673.3" x2="143.4" y2="673.3" stroke="#2e2e2e" stroke-width="2"/><text transform="translate(101.8,672.3) rotate(-90) scale(1,1.09)" text-anchor="middle" font-size="30">2400</text><line x1="125.5" y1="556.5" x2="143.4" y2="556.5" stroke="#2e2e2e" stroke-width="2"/><text transform="translate(101.8,555.5) rotate(-90) scale(1,1.09)" text-anchor="middle" font-size="30">2600</text><line x1="125.5" y1="439.7" x2="143.4" y2="439.7" stroke="#2e2e2e" stroke-width="2"/><text transform="translate(101.8,438.7) rotate(-90) scale(1,1.09)" text-anchor="middle" font-size="30">2800</text><line x1="125.5" y1="324.7" x2="143.4" y2="324.7" stroke="#2e2e2e" stroke-width="2"/><text transform="translate(101.8,323.7) rotate(-90) scale(1,1.09)" text-anchor="middle" font-size="30">3000</text><line x1="125.5" y1="207.9" x2="143.4" y2="207.9" stroke="#2e2e2e" stroke-width="2"/><text transform="translate(101.8,206.9) rotate(-90) scale(1,1.09)" text-anchor="middle" font-size="30">3200</text><line x1="125.5" y1="90.8" x2="143.4" y2="90.8" stroke="#2e2e2e" stroke-width="2"/><text transform="translate(101.8,89.8) rotate(-90) scale(1,1.09)" text-anchor="middle" font-size="30">3400</text>
<text x="776.5" y="1012.9" text-anchor="middle" font-size="29.5">W170/kg [W/kg]</text>
<text transform="translate(31.3,482.6) rotate(-90)" text-anchor="middle" font-size="29.2">12-minute run [m]</text>
<rect x="1219" y="769.3" width="191.8" height="108.0" fill="#fff" stroke="#2e2e2e" stroke-width="2"/>
<path fill="#000" d="M1244.30 798.85 L1249.30 798.85 L1253.15 802.70 L1253.15 807.70 L1249.30 811.55 L1244.30 811.55 L1240.45 807.70 L1240.45 802.70Z"/><path fill="#f00" d="M1244.30 833.45 L1249.30 833.45 L1253.15 837.30 L1253.15 842.30 L1249.30 846.15 L1244.30 846.15 L1240.45 842.30 L1240.45 837.30Z"/>
<text x="1273.6" y="818.6" font-size="29">Recruits</text><text x="1273.6" y="852.9" font-size="29">Students</text>
</g></svg></body></html>
